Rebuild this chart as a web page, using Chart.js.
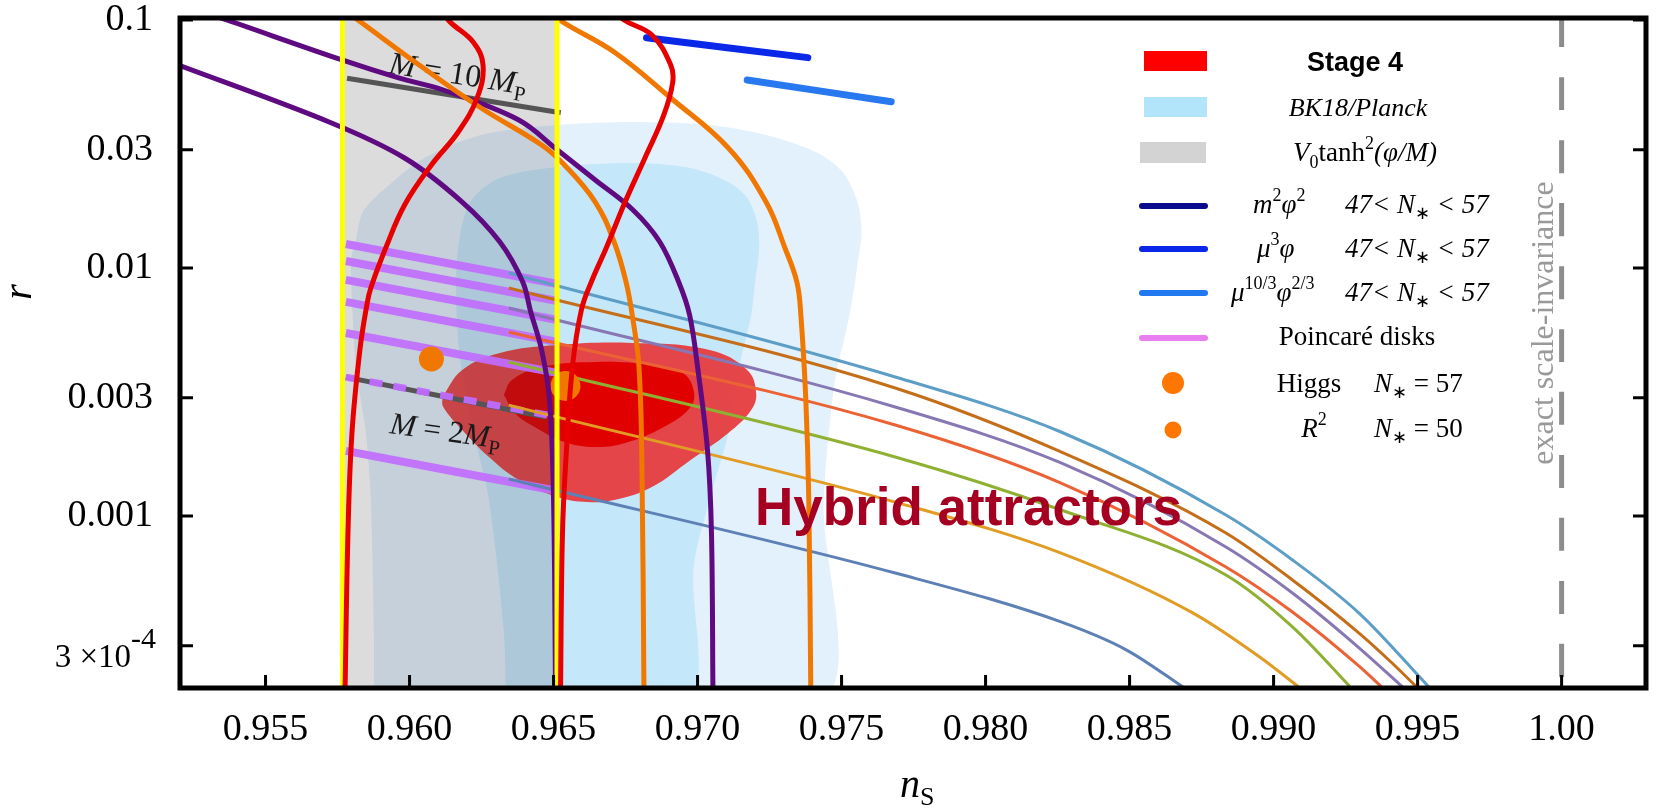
<!DOCTYPE html>
<html>
<head>
<meta charset="utf-8">
<script src="https://cdn.jsdelivr.net/npm/chart.js@4.4.1/dist/chart.umd.min.js"></script>
<style>
  html, body { margin: 0; padding: 0; background: #fff; }
</style>
</head>
<body>
<canvas id="nsr" width="1661" height="808"></canvas>
<script>
const SERIF = '"Liberation Serif", "Times New Roman", serif';
const SANS = '"Liberation Sans", Arial, sans-serif';

// axes
const nsRange = [0.95203, 1.00293];
const rRange = [2.025e-4, 0.10187];
const xTicks = [0.955, 0.96, 0.965, 0.97, 0.975, 0.98, 0.985, 0.99, 0.995, 1.0];
const xTickLabels = ['0.955', '0.960', '0.965', '0.970', '0.975', '0.980', '0.985', '0.990', '0.995', '1.00'];
const yTicks = [0.0003, 0.001, 0.003, 0.01, 0.03, 0.1];
const yTickLabels = ['3 ×10-4', '0.001', '0.003', '0.01', '0.03', '0.1'];

// BK18/Planck contours [n_s, r]
const bkOuter = [[0.95876,0.00018],[0.95876,0.000337],[0.958655,0.00116],[0.958483,0.00216],[0.958138,0.00399],[0.958,0.00743],[0.957966,0.01077],[0.958138,0.01297],[0.958379,0.01682],[0.959172,0.02102],[0.960517,0.02777],[0.962483,0.03438],[0.965138,0.03772],[0.967759,0.03879],[0.970414,0.03772],[0.972379,0.03438],[0.974103,0.02936],[0.975034,0.02438],[0.975552,0.01845],[0.97569,0.01397],[0.975552,0.01028],[0.975276,0.00646],[0.974759,0.003438],[0.974379,0.00116],[0.974241,0.00018],[0.95876,0.00018]];
const bkInner = [[0.963345,0.00018],[0.963276,0.000337],[0.962759,0.00116],[0.962207,0.002222],[0.961759,0.004256],[0.961621,0.00743],[0.96169,0.01204],[0.962103,0.01845],[0.963138,0.02306],[0.965138,0.02555],[0.967759,0.02651],[0.969759,0.0253],[0.971069,0.02222],[0.971724,0.01916],[0.972069,0.01532],[0.972138,0.01204],[0.972,0.00878],[0.971862,0.00646],[0.971448,0.00399],[0.971069,0.00216],[0.970414,0.00116],[0.969862,0.000623],[0.969655,0.00018],[0.963345,0.00018]];

// Stage 4 forecast
const s4Outer = [[0.961138,0.003018],[0.961828,0.003879],[0.963138,0.004543],[0.965138,0.004892],[0.967759,0.004984],[0.970414,0.00467],[0.971724,0.003879],[0.972034,0.003133],[0.971862,0.002675],[0.971069,0.00216],[0.969759,0.001682],[0.968414,0.001309],[0.967103,0.00116],[0.966172,0.001138],[0.965138,0.001193],[0.963793,0.001397],[0.962759,0.001729],[0.961828,0.002222],[0.961172,0.002751],[0.961138,0.003018]];
const s4Inner = [[0.963276,0.003075],[0.963552,0.003535],[0.964586,0.00399],[0.966448,0.00418],[0.968414,0.004063],[0.969483,0.003772],[0.969862,0.003222],[0.969759,0.002751],[0.968828,0.002285],[0.967483,0.00197],[0.966448,0.001898],[0.965379,0.001988],[0.964345,0.002285],[0.963655,0.002602],[0.963276,0.003075]];

// V0 tanh^2 band and its edges
const tanhBand = [[0.95767,0.00015],[0.95767,0.12],[0.96512,0.12],[0.96512,0.00015],[0.95767,0.00015]];
const bandLeft = [[0.95767,0.00015],[0.95767,0.12]];
const bandRight = [[0.96512,0.00015],[0.96512,0.12]];
const mTen = [[0.95783,0.0582],[0.96525,0.0423]];
const mTwo = [[0.95779,0.00363],[0.96472,0.002507]];

// Poincare disks
const pd1 = [[0.95779,0.0125],[0.96514,0.00862]];
const pd2 = [[0.95779,0.01067],[0.96514,0.00736]];
const pd3 = [[0.95779,0.00895],[0.96514,0.00617]];
const pd4 = [[0.95779,0.0073],[0.96514,0.00503]];
const pd5 = [[0.95779,0.00547],[0.96514,0.003772]];
const pd6 = [[0.95779,0.00363],[0.96514,0.002507]];
const pd7 = [[0.95779,0.00183],[0.96514,0.001261]];

// hybrid attractors
const haLightBlue = [[0.963448,0.009546],[0.976862,0.003635],[0.982621,0.002181],[0.988345,0.001009],[0.990655,0.000665],[0.992966,0.000406],[0.995483,0.000199]];
const haBrown = [[0.963448,0.00831],[0.976862,0.003281],[0.982621,0.001812],[0.988345,0.000854],[0.990655,0.000552],[0.992966,0.000337],[0.994103,0.000256],[0.995069,0.000199]];
const haPurple = [[0.963448,0.0069],[0.976862,0.002751],[0.982621,0.001636],[0.988345,0.00075],[0.990655,0.000489],[0.992966,0.000294],[0.994586,0.000199]];
const haRed = [[0.963448,0.00552],[0.976862,0.002327],[0.982621,0.001358],[0.988345,0.000623],[0.990655,0.00041],[0.992966,0.000248],[0.993862,0.000199]];
const haGreen = [[0.963448,0.00418],[0.976862,0.001729],[0.982621,0.001057],[0.988345,0.000578],[0.990655,0.000357],[0.992759,0.000199]];
const haYellow = [[0.963448,0.0028],[0.976862,0.001138],[0.982621,0.000709],[0.987207,0.000406],[0.989517,0.00027],[0.991,0.000199]];
const haSteel = [[0.963448,0.00141],[0.976862,0.000589],[0.982621,0.000374],[0.984897,0.000288],[0.987,0.000199]];

// thick model curves
const purpleA = [[0.952724,0.1087],[0.953655,0.1],[0.957655,0.069],[0.959621,0.0584],[0.961172,0.0522],[0.963793,0.0395],[0.965138,0.0299],[0.966448,0.02263],[0.967759,0.01713],[0.96869,0.01273],[0.969345,0.00878],[0.969724,0.00646],[0.97,0.00399],[0.970345,0.001845],[0.970483,0.000854],[0.970534,0.000195]];
const purpleB = [[0.95169,0.0677],[0.957207,0.0388],[0.959828,0.02777],[0.961828,0.01845],[0.963138,0.01273],[0.963931,0.00878],[0.964207,0.00665],[0.964586,0.00467],[0.964862,0.002935],[0.965,0.00116],[0.965069,0.000195]];
const orangeA = [[0.957724,0.1097],[0.958207,0.1],[0.960483,0.064],[0.962483,0.04417],[0.964586,0.03133],[0.965379,0.02602],[0.966448,0.01845],[0.967103,0.01273],[0.967517,0.00878],[0.967759,0.00617],[0.967966,0.00399],[0.968069,0.001576],[0.968138,0.000195]];
const orangeB = [[0.964793,0.1118],[0.965207,0.1],[0.967103,0.0743],[0.969069,0.04847],[0.971069,0.03048],[0.972379,0.01845],[0.973034,0.01204],[0.973448,0.00878],[0.973586,0.00646],[0.973759,0.002935],[0.973862,0.00116],[0.973931,0.000195]];
const redA = [[0.961172,0.1118],[0.961345,0.1],[0.962207,0.0815],[0.962552,0.0658],[0.962345,0.04847],[0.96169,0.03535],[0.960759,0.02602],[0.959828,0.01795],[0.959172,0.01204],[0.958655,0.00831],[0.958517,0.00709],[0.958276,0.00467],[0.958,0.00216],[0.957862,0.000854],[0.957759,0.000195]];
const redB = [[0.967034,0.1118],[0.967448,0.1],[0.968414,0.087],[0.969069,0.0658],[0.969138,0.0562],[0.968828,0.0414],[0.968172,0.02777],[0.967483,0.01845],[0.966828,0.01204],[0.96631,0.00878],[0.965966,0.00677],[0.965655,0.00399],[0.965448,0.001845],[0.96531,0.000854],[0.965241,0.000195]];
const muCube = [[0.968228,0.0848],[0.973828,0.0705]];
const muTenThirds = [[0.971724,0.0573],[0.976724,0.0468]];

// single points and reference line
const higgsPt = [[0.965414,0.003343]];
const r2Pt = [[0.960759,0.004297]];
const scaleInv = [[1.0,0.1057],[1.0,0.00015]];

function curve(label, data, color, width, order, extra) {
  return Object.assign({
    label: label, data: data, order: order,
    showLine: true, borderColor: color, borderWidth: width,
    pointRadius: 0, pointHoverRadius: 0, tension: 0.4, fill: false, clip: 0,
    borderCapStyle: 'butt', borderJoinStyle: 'round'
  }, extra || {});
}
function area(label, data, color, order, tension) {
  return {
    label: label, data: data, order: order, showLine: true,
    borderWidth: 0, borderColor: 'rgba(0,0,0,0)', backgroundColor: color,
    fill: 'shape', pointRadius: 0, pointHoverRadius: 0, tension: tension, clip: 0
  };
}
function dot(label, data, radius, order) {
  return {
    label: label, data: data, order: order, showLine: false,
    pointRadius: radius, pointHoverRadius: radius, pointBackgroundColor: '#f07800',
    pointBorderWidth: 0, borderColor: 'rgba(0,0,0,0)', clip: 0
  };
}
const smooth = { cubicInterpolationMode: 'monotone' };

const PINK = 'rgba(192,108,255,0.92)';
const datasets = [
  area('bkOuter', bkOuter, '#e3f1fc', 30, 0.3),
  area('bkInner', bkInner, '#c5e7fa', 29, 0.3),
  area('s4Outer', s4Outer, 'rgba(232,40,40,0.85)', 28, 0.4),
  area('s4Inner', s4Inner, '#e00000', 27, 0.4),
  area('band', tanhBand, 'rgba(60,62,66,0.18)', 26, 0),
  curve('pd1', pd1, PINK, 8, 25),
  curve('pd2', pd2, PINK, 8, 25),
  curve('pd3', pd3, PINK, 8, 25),
  curve('pd4', pd4, PINK, 8, 25),
  curve('pd5', pd5, PINK, 8, 25),
  curve('pd7', pd7, PINK, 8, 25),
  curve('mTen', mTen, '#555555', 5, 24),
  curve('mTwo', mTwo, '#555555', 5, 24),
  curve('pd6', pd6, 'rgba(192,108,255,0.95)', 7, 23, {borderDash: [13, 11]}),
  curve('haLightBlue', haLightBlue, '#5d9ec7', 3, 22, smooth),
  curve('haBrown', haBrown, '#c56e1a', 3, 22, smooth),
  curve('haPurple', haPurple, '#8778b3', 3, 22, smooth),
  curve('haRed', haRed, '#eb6235', 3, 22, smooth),
  curve('haGreen', haGreen, '#8fb032', 3, 22, smooth),
  curve('haYellow', haYellow, '#e19c24', 3, 22, smooth),
  curve('haSteel', haSteel, '#5e81b5', 3, 22, smooth),
  dot('higgs', higgsPt, 15, 21),
  dot('r2', r2Pt, 12.5, 21),
  curve('purpleA', purpleA, '#600a82', 5, 20, {tension: 0.35}),
  curve('purpleB', purpleB, '#600a82', 5, 20, {tension: 0.35}),
  curve('orangeA', orangeA, '#f07800', 5, 19),
  curve('orangeB', orangeB, '#f07800', 5, 19),
  curve('muCube', muCube, '#0a28e8', 7, 19, {borderCapStyle: 'round'}),
  curve('muTenThirds', muTenThirds, '#2878f0', 7, 19, {borderCapStyle: 'round'}),
  curve('bandLeft', bandLeft, '#ffff00', 5, 18),
  curve('bandRight', bandRight, '#ffff00', 5, 18),
  curve('redA', redA, '#e60000', 5, 17),
  curve('redB', redB, '#e60000', 5, 17),
  curve('scaleInv', scaleInv, '#8c8c8c', 5, 16, {borderDash: [33, 30]})
];
const bandIndex = datasets.findIndex(d => d.label === 'band');

function runs(ctx, x, y, parts, align) {
  let w = 0;
  parts.forEach(p => { ctx.font = p[1]; w += ctx.measureText(p[0]).width; });
  let cx = align === 'center' ? x - w / 2 : x;
  parts.forEach(p => {
    ctx.font = p[1];
    ctx.fillText(p[0], cx, y + (p[2] || 0));
    cx += ctx.measureText(p[0]).width;
  });
}
const it = s => 'italic ' + s + 'px ' + SERIF;
const rm = s => s + 'px ' + SERIF;

const decor = {
  id: 'decor',
  afterDatasetDraw(chart, args) {
    if (args.index !== bandIndex) return;
    const ctx = chart.ctx;
    ctx.save();
    ctx.fillStyle = '#1a1a1a';
    ctx.textAlign = 'left';
    ctx.textBaseline = 'alphabetic';
    ctx.translate(388, 73);
    ctx.rotate(9 * Math.PI / 180);
    runs(ctx, 0, 0, [['M', it(32)], [' = 10 ', rm(32)], ['M', it(32)], ['P', rm(21), 7]], 'left');
    ctx.restore();
    ctx.save();
    ctx.fillStyle = '#1a1a1a';
    ctx.translate(389, 433);
    ctx.rotate(8 * Math.PI / 180);
    runs(ctx, 0, 0, [['M', it(31)], [' = 2', rm(31)], ['M', it(31)], ['P', rm(21), 7]], 'left');
    ctx.restore();
  },
  afterDatasetsDraw(chart) {
    const ctx = chart.ctx;
    ctx.save();
    ctx.fillStyle = '#a50021';
    ctx.font = 'bold 53px ' + SANS;
    ctx.textAlign = 'left';
    ctx.textBaseline = 'alphabetic';
    ctx.fillText('Hybrid attractors', 755, 525);
    ctx.translate(1553, 323);
    ctx.rotate(-Math.PI / 2);
    ctx.fillStyle = '#999999';
    ctx.font = rm(32);
    ctx.textAlign = 'center';
    ctx.fillText('exact scale-invariance', 0, 0);
    ctx.restore();
  },
  afterDraw(chart) {
    const ctx = chart.ctx;
    const a = chart.chartArea;
    const xs = chart.scales.x, ys = chart.scales.y;
    ctx.save();
    // inward tick marks
    ctx.strokeStyle = '#000';
    ctx.lineWidth = 3;
    ctx.beginPath();
    xTicks.forEach(v => {
      const px = xs.getPixelForValue(v);
      ctx.moveTo(px, a.bottom); ctx.lineTo(px, a.bottom - 13);
    });
    yTicks.forEach(v => {
      const py = ys.getPixelForValue(v);
      ctx.moveTo(a.left, py); ctx.lineTo(a.left + 13, py);
      ctx.moveTo(a.right, py); ctx.lineTo(a.right - 13, py);
    });
    ctx.stroke();
    // frame
    ctx.lineWidth = 5;
    ctx.strokeRect(a.left, a.top, a.right - a.left, a.bottom - a.top);

    // 3 x 10^-4 tick label
    const p4 = ys.getPixelForValue(yTicks[0]);
    ctx.fillStyle = '#000';
    ctx.textBaseline = 'alphabetic';
    ctx.textAlign = 'right';
    ctx.font = rm(33);
    ctx.fillText('3 ×10', 131, p4 + 21);
    ctx.textAlign = 'left';
    ctx.font = rm(30);
    ctx.fillText('-4', 131, p4 + 2);

    // axis titles
    ctx.save();
    ctx.translate(31, 292);
    ctx.rotate(-Math.PI / 2);
    ctx.textAlign = 'center';
    ctx.font = it(40);
    ctx.fillText('r', 0, 0);
    ctx.restore();
    runs(ctx, 900, 797, [['n', it(40)], ['S', rm(26), 8]], 'left');

    // legend
    ctx.fillStyle = '#ff0000'; ctx.fillRect(1144, 51, 63, 20);
    ctx.fillStyle = '#b3e5fa'; ctx.fillRect(1144, 97, 63, 20);
    ctx.fillStyle = '#d3d3d3'; ctx.fillRect(1140, 142, 66, 21);
    ctx.lineCap = 'round';
    ctx.lineWidth = 6;
    [['#0b0b8c', 206], ['#0a26e8', 249], ['#2179f2', 293], ['#e87ef0', 338]].forEach(l => {
      ctx.strokeStyle = l[0];
      ctx.beginPath(); ctx.moveTo(1142, l[1]); ctx.lineTo(1205, l[1]); ctx.stroke();
    });
    ctx.fillStyle = '#ff7700';
    ctx.beginPath(); ctx.arc(1173, 383, 11, 0, Math.PI * 2); ctx.fill();
    ctx.beginPath(); ctx.arc(1173, 430, 8.5, 0, Math.PI * 2); ctx.fill();

    ctx.fillStyle = '#000';
    ctx.textAlign = 'left';
    runs(ctx, 1355, 71, [['Stage 4', 'bold 27px ' + SANS]], 'center');
    runs(ctx, 1358, 116, [['BK18/Planck', it(26)]], 'center');
    runs(ctx, 1365, 161, [['V', it(27)], ['0', rm(18), 7], ['tanh', rm(27)], ['2', rm(18), -12], ['(φ/M)', it(27)]], 'center');
    const nRange = [['47< ', it(27)], ['N', it(27)], ['∗', rm(18), 6], [' < 57', it(27)]];
    runs(ctx, 1253, 213, [['m', it(27)], ['2', rm(18), -12], ['φ', it(27)], ['2', rm(18), -12]], 'left');
    runs(ctx, 1345, 213, nRange, 'left');
    runs(ctx, 1257, 257, [['μ', it(27)], ['3', rm(18), -12], ['φ', it(27)]], 'left');
    runs(ctx, 1345, 257, nRange, 'left');
    runs(ctx, 1231, 301, [['μ', it(27)], ['10/3', rm(18), -12], ['φ', it(27)], ['2/3', rm(18), -12]], 'left');
    runs(ctx, 1345, 301, nRange, 'left');
    runs(ctx, 1357, 345, [['Poincaré disks', rm(27)]], 'center');
    runs(ctx, 1309, 392, [['Higgs', rm(27)]], 'center');
    runs(ctx, 1374, 392, [['N', it(27)], ['∗', rm(18), 6], [' = 57', rm(27)]], 'left');
    runs(ctx, 1314, 437, [['R', it(27)], ['2', rm(18), -12]], 'center');
    runs(ctx, 1374, 437, [['N', it(27)], ['∗', rm(18), 6], [' = 50', rm(27)]], 'left');
    ctx.restore();
  }
};

new Chart(document.getElementById('nsr'), {
  type: 'line',
  data: { datasets: datasets },
  options: {
    responsive: false,
    animation: false,
    events: [],
    layout: { padding: { top: 18, right: 5, left: 0, bottom: 0 } },
    plugins: { legend: { display: false }, tooltip: { enabled: false } },
    scales: {
      x: {
        type: 'linear', position: 'bottom', min: nsRange[0], max: nsRange[1],
        grid: { display: false, drawTicks: false }, border: { display: false },
        afterBuildTicks: s => { s.ticks = xTicks.map(v => ({ value: v })); },
        afterFit: s => { s.height = 120; s.paddingLeft = 0; s.paddingRight = 0; },
        ticks: {
          autoSkip: false, maxRotation: 0, minRotation: 0, padding: 27, color: '#000',
          font: { family: SERIF, size: 38, lineHeight: 0.8 },
          callback: (v, i) => xTickLabels[i]
        }
      },
      y: {
        type: 'logarithmic', position: 'left', min: rRange[0], max: rRange[1],
        grid: { display: false, drawTicks: false }, border: { display: false },
        afterBuildTicks: s => { s.ticks = yTicks.map(v => ({ value: v })); },
        afterFit: s => { s.width = 180; s.paddingTop = 0; s.paddingBottom = 0; },
        ticks: {
          autoSkip: false, padding: 27, color: '#000',
          font: { family: SERIF, size: 38, lineHeight: 0.8 },
          callback: (v, i) => (i === 0 ? '' : yTickLabels[i])
        }
      }
    }
  },
  plugins: [decor]
});
</script>
</body>
</html>
